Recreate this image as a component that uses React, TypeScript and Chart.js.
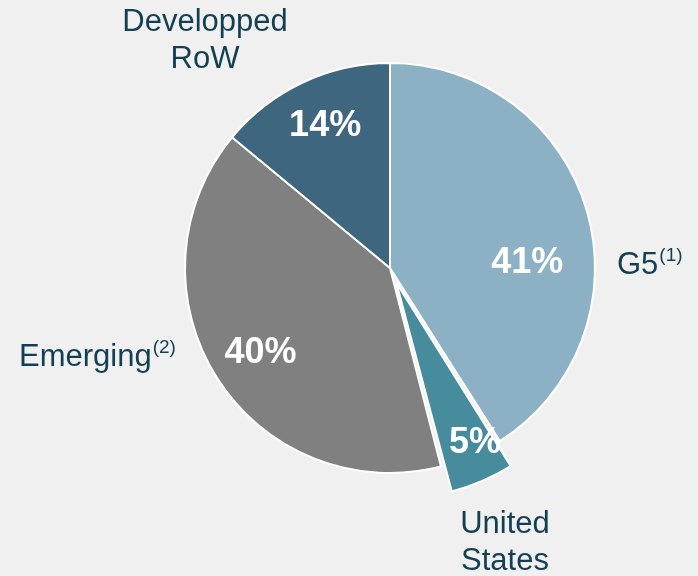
import React, { useEffect, useRef } from "react";
import { Chart, registerables } from "chart.js";

Chart.register(...registerables);

const categories = ["G5", "United States", "Emerging", "Developped RoW"];
const shares = [41, 5, 40, 14];
const percentLabels = ["41%", "5%", "40%", "14%"];
const outerLabelLines = [["G5"], ["United", "States"], ["Emerging"], ["Developped", "RoW"]];
const outerLabelNotes = ["(1)", "", "(2)", ""];

const colors = ["#8CB1C5", "#468C9D", "#808080", "#3E667E"];
// Chart.js translates an arc by offset/4 pixels
const offsets = [0, 64, 0, 0];
const TEXT = "#123F52";
const FONT = '"Liberation Sans", Arial, sans-serif';

// label placement (style): angle shift in degrees from slice middle, radial fraction
const pctAngleShift = [14, -2.5, -0.8, 0.6];
const pctRadialFrac = [0.67, 0.87, 0.755, 0.76];
// outer label placement: [x, y, align]
const outerPos: [number, number, CanvasTextAlign][] = [
  [617, 265, "left"],
  [505, 524, "center"],
  [19, 357, "left"],
  [205, 22, "center"],
];

const labelPlugin = {
  id: "pieLabels",
  afterDatasetsDraw(chart: any) {
    const ctx = chart.ctx;
    const meta = chart.getDatasetMeta(0);
    ctx.save();
    ctx.textBaseline = "middle";
    meta.data.forEach((arc: any, i: number) => {
      const p = arc.getProps(["x", "y", "startAngle", "endAngle", "outerRadius"], true);
      const mid = (p.startAngle + p.endAngle) / 2 + (pctAngleShift[i] * Math.PI) / 180;
      const r = p.outerRadius * pctRadialFrac[i] + offsets[i] / 4;
      const x = p.x + Math.cos(mid) * r;
      const y = p.y + Math.sin(mid) * r;
      ctx.fillStyle = "#FFFFFF";
      ctx.font = `bold 36px ${FONT}`;
      ctx.textAlign = "center";
      ctx.fillText(percentLabels[i], x, y);

      const [ox, oy, align] = outerPos[i];
      ctx.fillStyle = TEXT;
      ctx.font = `31px ${FONT}`;
      const lines = outerLabelLines[i];
      lines.forEach((ln, k) => {
        ctx.textAlign = align;
        ctx.fillText(ln, ox, oy + k * 37);
        if (k === lines.length - 1 && outerLabelNotes[i]) {
          const w = ctx.measureText(ln).width;
          const sx = align === "left" ? ox + w : align === "center" ? ox + w / 2 : ox;
          ctx.font = `19px ${FONT}`;
          ctx.textAlign = "left";
          ctx.fillText(outerLabelNotes[i], sx + 1, oy + k * 37 - 9);
          ctx.font = `31px ${FONT}`;
        }
      });
    });
    ctx.restore();
  },
};

export default function App() {
  const ref = useRef<HTMLCanvasElement | null>(null);
  useEffect(() => {
    document.body.style.margin = "0";
    document.body.style.background = "#F0F0F0";
    const chart = new Chart(ref.current!, {
      type: "pie",
      data: {
        labels: categories,
        datasets: [
          {
            data: shares,
            backgroundColor: colors,
            borderColor: "#FFFFFF",
            borderWidth: 2,
            offset: offsets,
          },
        ],
      },
      options: {
        animation: false,
        responsive: false,
        radius: 205,
        layout: { padding: { left: 82, right: 0, top: 0, bottom: 40 } },
        plugins: { legend: { display: false }, tooltip: { enabled: false } },
      } as any,
      plugins: [labelPlugin],
    });
    return () => chart.destroy();
  }, []);
  return (
    <div style={{ width: 698, height: 576, background: "#F0F0F0" }}>
      <canvas ref={ref} width={698} height={576} style={{ display: "block" }} />
    </div>
  );
}
